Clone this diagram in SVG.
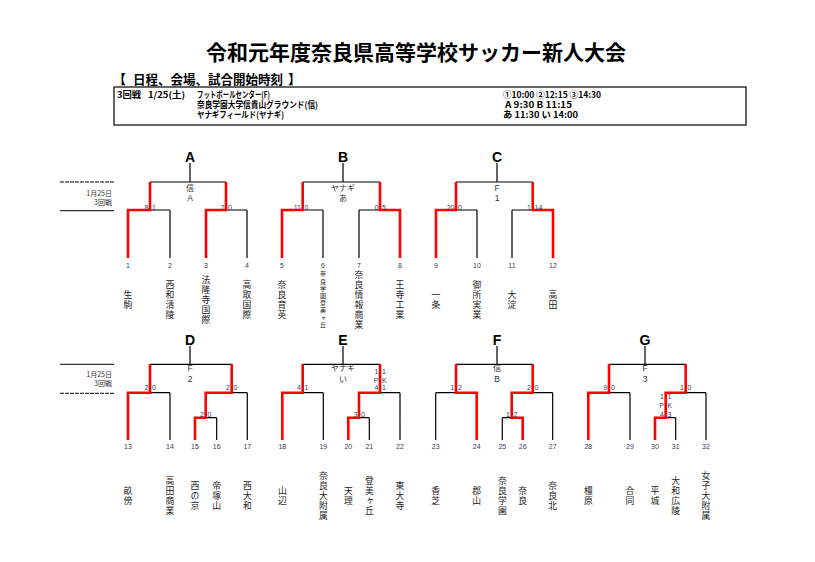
<svg xmlns="http://www.w3.org/2000/svg" width="815" height="562" viewBox="0 0 815 562">
<style>
.k{stroke:#000;stroke-width:1.2;fill:none}
.r{stroke:#f00;stroke-width:2.6;fill:none;stroke-linejoin:miter}
.t{font-family:"Noto Sans CJK JP","Liberation Sans",sans-serif;fill:#000}
.hd{font-family:"Noto Sans CJK JP","Liberation Sans",sans-serif;font-weight:bold;font-size:8.8px;fill:#000}
.num{font-family:"Liberation Sans",sans-serif;font-size:7px;fill:#3a3a5a;text-anchor:middle}
.sc{font-family:"Liberation Sans",sans-serif;font-size:7px;fill:#3a3a5a}
.e{text-anchor:end}
.nm{font-family:"Noto Sans CJK JP",sans-serif;font-size:8.8px;letter-spacing:1.2px;fill:#222;text-anchor:middle;writing-mode:vertical-rl;text-orientation:upright}
.nms{font-family:"Noto Sans CJK JP",sans-serif;font-size:6px;letter-spacing:1.2px;fill:#222;text-anchor:middle;writing-mode:vertical-rl;text-orientation:upright}
.let{font-family:"Liberation Sans",sans-serif;font-weight:bold;font-size:14px;fill:#000;text-anchor:middle}
.ven{font-family:"Noto Sans CJK JP","Liberation Sans",sans-serif;font-size:8px;fill:#333;text-anchor:middle}
.venl{font-family:"Liberation Sans",sans-serif;font-size:8.5px;fill:#333;text-anchor:middle}
.dt{font-family:"Noto Sans CJK JP","Liberation Sans",sans-serif;font-size:7px;fill:#333;text-anchor:end}
</style>
<rect width="815" height="562" fill="#fff"/>

<g id="header">
<text class="t" x="416" y="60" font-size="21" font-weight="bold" text-anchor="middle">令和元年度奈良県高等学校サッカー新人大会</text>
<text class="t" x="113" y="84" font-size="13" font-weight="bold">【</text>
<text class="t" x="133" y="84" font-size="13" font-weight="bold" textLength="150" lengthAdjust="spacingAndGlyphs">日程、会場、試合開始時刻</text>
<text class="t" x="288" y="84" font-size="13" font-weight="bold">】</text>
<rect x="114" y="87" width="632" height="38" fill="none" stroke="#000" stroke-width="1.2"/>
<text class="hd" x="117" y="98" textLength="24" lengthAdjust="spacingAndGlyphs">3回戦</text>
<text class="hd" x="148" y="98" textLength="37" lengthAdjust="spacingAndGlyphs">1/25(土)</text>
<text class="hd" x="197" y="98" textLength="73" lengthAdjust="spacingAndGlyphs">フットボールセンター(F)</text>
<text class="hd" x="197" y="108" textLength="121" lengthAdjust="spacingAndGlyphs">奈良学園大学信貴山グラウンド(信)</text>
<text class="hd" x="197" y="118" textLength="87" lengthAdjust="spacingAndGlyphs">ヤナギフィールド(ヤナギ)</text>
<text class="hd" x="503" y="98" textLength="98" lengthAdjust="spacingAndGlyphs">①10:00 ②12:15 ③14:30</text>
<text class="hd" x="505" y="108" textLength="67" lengthAdjust="spacingAndGlyphs">A 9:30  B 11:15</text>
<text class="hd" x="503" y="118" textLength="75" lengthAdjust="spacingAndGlyphs">あ 11:30  い 14:00</text>
</g>

<g id="date-upper">
<line x1="60" y1="182" x2="114" y2="182" stroke="#000" stroke-width="1" stroke-dasharray="4,1"/>
<line x1="60" y1="210.7" x2="114" y2="210.7" stroke="#000" stroke-width="1"/>
<text class="dt" x="112" y="196">1月25日</text>
<text class="dt" x="112" y="204.5">3回戦</text>
</g>
<g id="date-lower">
<line x1="60" y1="364.3" x2="114" y2="364.3" stroke="#000" stroke-width="1"/>
<line x1="60" y1="393.3" x2="114" y2="393.3" stroke="#000" stroke-width="1" stroke-dasharray="4,1"/>
<text class="dt" x="112" y="377">1月25日</text>
<text class="dt" x="112" y="386">3回戦</text>
</g>

<g id="connectors">
<path class="k" d="M190,163V182M150,182H226M150,182V210M226,182V210M128,210H170M206,210H247M128,210V258M170,210V258M206,210V258M247,210V258"/>
<path class="k" d="M343,163V182M302.7,182H380M302.7,182V210M380,182V210M282,210H323M359,210H400M282,210V258M323,210V258M359,210V258M400,210V258"/>
<path class="k" d="M497,163V182M456,182H532.7M456,182V210M532.7,182V210M436,210H477M512,210H553M436,210V258M477,210V258M512,210V258M553,210V258"/>
<path class="k" d="M190,346V364.3M150,364.3H231.7M150,364.3V392.7M231.7,364.3V392.7M128,392.7H170M205.7,392.7H247.3M128,392.7V440M170,392.7V440M247.3,392.7V440M205.7,392.7V417.7M195,417.7H216.7M195,417.7V440M216.7,417.7V440"/>
<path class="k" d="M343,346V364.3M302.7,364.3H380M302.7,364.3V392.7M380,364.3V392.7M282.3,392.7H323.3M359,392.7H400M282.3,392.7V440M323.3,392.7V440M400,392.7V440M359,392.7V417.7M348.3,417.7H369.3M348.3,417.7V440M369.3,417.7V440"/>
<path class="k" d="M497,346V364.3M456,364.3H532.7M456,364.3V392.7M532.7,364.3V392.7M435.7,392.7H476.7M511.7,392.7H552.7M435.7,392.7V440M476.7,392.7V440M552.7,392.7V440M511.7,392.7V417.7M502.3,417.7H522.7M502.3,417.7V440M522.7,417.7V440"/>
<path class="k" d="M645,346V364.3M609,364.3H685.7M609,364.3V392.7M685.7,364.3V392.7M588.3,392.7H630M665.7,392.7H706M588.3,392.7V440M630,392.7V440M706,392.7V440M665.7,392.7V417.7M655,417.7H675.7M655,417.7V440M675.7,417.7V440"/>

<polyline class="r" points="128,258 128,210 150,210 150,182"/>
<polyline class="r" points="206,258 206,210 226,210 226,182"/>
<polyline class="r" points="282,258 282,210 302.7,210 302.7,182"/>
<polyline class="r" points="400,258 400,210 380,210 380,182"/>
<polyline class="r" points="436,258 436,210 456,210 456,182"/>
<polyline class="r" points="553,258 553,210 532.7,210 532.7,182"/>
<polyline class="r" points="128,440 128,392.7 150,392.7 150,364.3"/>
<polyline class="r" points="195,440 195,417.7 205.7,417.7 205.7,392.7 231.7,392.7 231.7,364.3"/>
<polyline class="r" points="282.3,440 282.3,392.7 302.7,392.7 302.7,364.3"/>
<polyline class="r" points="348.3,440 348.3,417.7 359,417.7 359,392.7 380,392.7 380,364.3"/>
<polyline class="r" points="476.7,440 476.7,392.7 456,392.7 456,364.3"/>
<polyline class="r" points="522.7,440 522.7,417.7 511.7,417.7 511.7,392.7 532.7,392.7 532.7,364.3"/>
<polyline class="r" points="588.3,440 588.3,392.7 609,392.7 609,364.3"/>
<polyline class="r" points="655,440 655,417.7 665.7,417.7 665.7,392.7 685.7,392.7 685.7,364.3"/>

<g id="scores">
<text class="sc e" x="148.5" y="209.5">8</text><text class="sc" x="152" y="209.5">1</text>
<text class="sc e" x="224.5" y="209.5">7</text><text class="sc" x="228" y="209.5">0</text>
<text class="sc e" x="301" y="209.5">11</text><text class="sc" x="304.5" y="209.5">0</text>
<text class="sc e" x="378.5" y="209.5">0</text><text class="sc" x="382" y="209.5">5</text>
<text class="sc e" x="454.5" y="209.5">20</text><text class="sc" x="458" y="209.5">0</text>
<text class="sc e" x="531" y="209.5">1</text><text class="sc" x="534.5" y="209.5">14</text>

<text class="sc e" x="148.5" y="390">2</text><text class="sc" x="152" y="390">0</text>
<text class="sc e" x="230" y="390">2</text><text class="sc" x="233.5" y="390">0</text>
<text class="sc e" x="204" y="416.5">2</text><text class="sc" x="207.5" y="416.5">0</text>

<text class="sc e" x="301" y="390">4</text><text class="sc" x="304.5" y="390">1</text>
<text class="sc e" x="378.5" y="374">1</text><text class="sc" x="382" y="374">1</text>
<text class="sc e" x="378.5" y="382.5">P</text><text class="sc" x="382" y="382.5">K</text>
<text class="sc e" x="378.5" y="390">4</text><text class="sc" x="382" y="390">1</text>
<text class="sc e" x="357.5" y="416.5">3</text><text class="sc" x="361" y="416.5">0</text>

<text class="sc e" x="454.5" y="390">1</text><text class="sc" x="458" y="390">2</text>
<text class="sc e" x="531" y="390">2</text><text class="sc" x="534.5" y="390">0</text>
<text class="sc e" x="510" y="416.5">1</text><text class="sc" x="513.5" y="416.5">2</text>

<text class="sc e" x="607.5" y="390">9</text><text class="sc" x="611" y="390">0</text>
<text class="sc e" x="684" y="390">1</text><text class="sc" x="687.5" y="390">0</text>
<text class="sc e" x="664" y="399">1</text><text class="sc" x="667.5" y="399">1</text>
<text class="sc e" x="664" y="407.5">P</text><text class="sc" x="667.5" y="407.5">K</text>
<text class="sc e" x="664" y="416.5">4</text><text class="sc" x="667.5" y="416.5">3</text>
</g>
</g>

<g id="block-A"><text class="let" x="190" y="162">A</text><text class="ven" x="190" y="191">信</text><text class="venl" x="190" y="201">A</text></g>
<g id="block-B"><text class="let" x="343" y="162">B</text><text class="ven" x="343" y="191">ヤナギ</text><text class="ven" x="343" y="201">あ</text></g>
<g id="block-C"><text class="let" x="497" y="162">C</text><text class="venl" x="497" y="191">F</text><text class="venl" x="497" y="201">1</text></g>
<g id="block-D"><text class="let" x="190" y="345">D</text><text class="venl" x="190" y="371">F</text><text class="venl" x="190" y="382">2</text></g>
<g id="block-E"><text class="let" x="343" y="345">E</text><text class="ven" x="343" y="371">ヤナギ</text><text class="ven" x="343" y="381.5">い</text></g>
<g id="block-F"><text class="let" x="497" y="345">F</text><text class="ven" x="497" y="371">信</text><text class="venl" x="497" y="382">B</text></g>
<g id="block-G"><text class="let" x="645" y="345">G</text><text class="venl" x="645" y="371">F</text><text class="venl" x="645" y="382">3</text></g>

<g id="team-1"><text class="num" x="128" y="267.5">1</text><text class="nm" x="128" y="300">生駒</text></g>
<g id="team-2"><text class="num" x="170" y="267.5">2</text><text class="nm" x="170" y="300">西和清陵</text></g>
<g id="team-3"><text class="num" x="206" y="267.5">3</text><text class="nm" x="206" y="300">法隆寺国際</text></g>
<g id="team-4"><text class="num" x="247" y="267.5">4</text><text class="nm" x="247" y="300">高取国際</text></g>
<g id="team-5"><text class="num" x="282" y="267.5">5</text><text class="nm" x="282" y="300">奈良育英</text></g>
<g id="team-6"><text class="num" x="323" y="267.5">6</text><text class="nms" x="323" y="300">奈良学園登美ヶ丘</text></g>
<g id="team-7"><text class="num" x="359" y="267.5">7</text><text class="nm" x="359" y="300">奈良情報商業</text></g>
<g id="team-8"><text class="num" x="400" y="267.5">8</text><text class="nm" x="400" y="300">王寺工業</text></g>
<g id="team-9"><text class="num" x="436" y="267.5">9</text><text class="nm" x="436" y="300">一条</text></g>
<g id="team-10"><text class="num" x="477" y="267.5">10</text><text class="nm" x="477" y="300">御所実業</text></g>
<g id="team-11"><text class="num" x="512" y="267.5">11</text><text class="nm" x="512" y="300">大淀</text></g>
<g id="team-12"><text class="num" x="553" y="267.5">12</text><text class="nm" x="553" y="300">高田</text></g>

<g id="team-13"><text class="num" x="128" y="449">13</text><text class="nm" x="128" y="496">畝傍</text></g>
<g id="team-14"><text class="num" x="170" y="449">14</text><text class="nm" x="170" y="496">高田商業</text></g>
<g id="team-15"><text class="num" x="195" y="449">15</text><text class="nm" x="195" y="496">西の京</text></g>
<g id="team-16"><text class="num" x="216.7" y="449">16</text><text class="nm" x="216.7" y="496">帝塚山</text></g>
<g id="team-17"><text class="num" x="247.3" y="449">17</text><text class="nm" x="247.3" y="496">西大和</text></g>
<g id="team-18"><text class="num" x="282.3" y="449">18</text><text class="nm" x="282.3" y="496">山辺</text></g>
<g id="team-19"><text class="num" x="323.3" y="449">19</text><text class="nm" x="323.3" y="496">奈良大附属</text></g>
<g id="team-20"><text class="num" x="348.3" y="449">20</text><text class="nm" x="348.3" y="496">天理</text></g>
<g id="team-21"><text class="num" x="369.3" y="449">21</text><text class="nm" x="369.3" y="496">登美ヶ丘</text></g>
<g id="team-22"><text class="num" x="400" y="449">22</text><text class="nm" x="400" y="496">東大寺</text></g>
<g id="team-23"><text class="num" x="435.7" y="449">23</text><text class="nm" x="435.7" y="496">香芝</text></g>
<g id="team-24"><text class="num" x="476.7" y="449">24</text><text class="nm" x="476.7" y="496">郡山</text></g>
<g id="team-25"><text class="num" x="502.3" y="449">25</text><text class="nm" x="502.3" y="496">奈良学園</text></g>
<g id="team-26"><text class="num" x="522.7" y="449">26</text><text class="nm" x="522.7" y="496">奈良</text></g>
<g id="team-27"><text class="num" x="552.7" y="449">27</text><text class="nm" x="552.7" y="496">奈良北</text></g>
<g id="team-28"><text class="num" x="588.3" y="449">28</text><text class="nm" x="588.3" y="496">橿原</text></g>
<g id="team-29"><text class="num" x="630" y="449">29</text><text class="nm" x="630" y="496">合同</text></g>
<g id="team-30"><text class="num" x="655" y="449">30</text><text class="nm" x="655" y="496">平城</text></g>
<g id="team-31"><text class="num" x="675.7" y="449">31</text><text class="nm" x="675.7" y="496">大和広陵</text></g>
<g id="team-32"><text class="num" x="706" y="449">32</text><text class="nm" x="706" y="496">女子大附属</text></g>
</svg>
